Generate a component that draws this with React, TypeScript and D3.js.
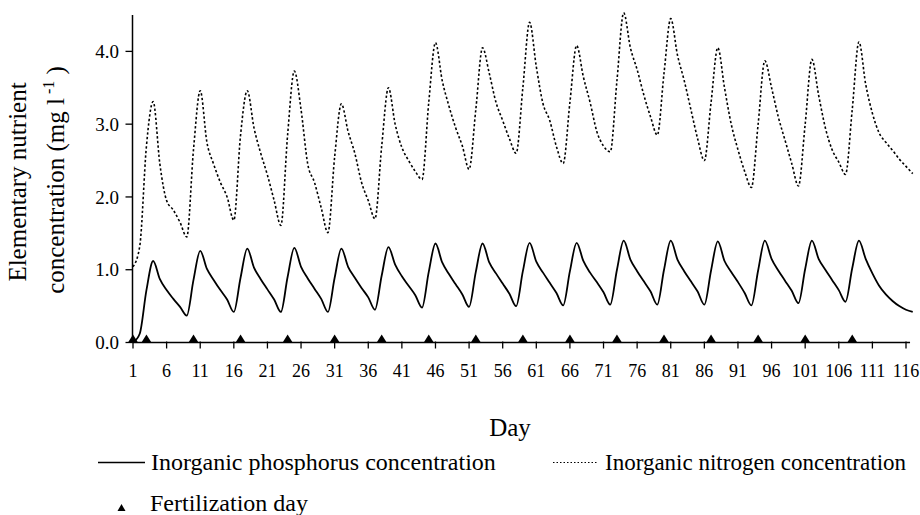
import React from "react";
import * as d3 from "d3";

// Daily inorganic phosphorus concentration (mg/l), day 1 .. day 117
const phosphorus = [
  0.0, 0.12, 0.72, 1.12, 0.87, 0.72, 0.6, 0.49, 0.37,
  0.86, 1.26, 1.01, 0.86, 0.72, 0.59, 0.42,
  0.89, 1.29, 1.03, 0.87, 0.73, 0.59, 0.42,
  0.9, 1.3, 1.04, 0.88, 0.74, 0.6, 0.42,
  0.89, 1.29, 1.04, 0.89, 0.75, 0.62, 0.45,
  0.92, 1.31, 1.07, 0.91, 0.78, 0.65, 0.48,
  0.97, 1.36, 1.1, 0.94, 0.8, 0.66, 0.49,
  0.97, 1.36, 1.1, 0.95, 0.81, 0.67, 0.5,
  0.98, 1.37, 1.11, 0.96, 0.82, 0.68, 0.51,
  0.98, 1.37, 1.12, 0.96, 0.83, 0.69, 0.52,
  1.0, 1.4, 1.14, 0.98, 0.84, 0.7, 0.52,
  1.0, 1.4, 1.14, 0.98, 0.84, 0.7, 0.52,
  0.99, 1.39, 1.12, 0.97, 0.83, 0.68, 0.51,
  0.99, 1.4, 1.15, 0.99, 0.85, 0.71, 0.54,
  1.01, 1.4, 1.15, 1.0, 0.86, 0.72, 0.56,
  1.02, 1.4, 1.15, 0.95, 0.78, 0.66, 0.57, 0.5, 0.45, 0.42,
];

// Daily inorganic nitrogen concentration (mg/l), day 1 .. day 117
const nitrogen = [
  1.04, 1.32, 2.7, 3.31, 2.45, 1.95, 1.82, 1.65, 1.45,
  2.65, 3.46, 2.75, 2.45, 2.2, 2.0, 1.68,
  2.85, 3.46, 2.95, 2.6, 2.3, 1.95, 1.61,
  2.85, 3.73, 3.2, 2.45, 2.2, 1.85, 1.51,
  2.55, 3.28, 2.9, 2.6, 2.2, 1.95, 1.7,
  2.7, 3.5, 3.0, 2.68, 2.5, 2.35, 2.24,
  3.3, 4.12, 3.6, 3.25, 2.95, 2.7, 2.38,
  3.2, 4.05, 3.7, 3.3, 3.05, 2.8, 2.6,
  3.5, 4.4, 3.79, 3.28, 3.05, 2.69, 2.46,
  3.3, 4.08, 3.65, 3.3, 2.9, 2.7, 2.62,
  3.6, 4.53, 4.05, 3.75, 3.4, 3.1, 2.85,
  3.7, 4.45, 3.95, 3.6, 3.2, 2.8, 2.5,
  3.3, 4.05, 3.5, 3.0, 2.65, 2.35, 2.13,
  3.0, 3.87, 3.5, 3.1, 2.78, 2.46, 2.15,
  3.0, 3.89, 3.4, 2.95, 2.65, 2.48, 2.31,
  3.2, 4.13, 3.55, 3.15, 2.88, 2.75, 2.64, 2.52, 2.42, 2.32,
];

// Days on which the pond was fertilized
const fertilizationDays = [1, 3, 10, 17, 24, 31, 38, 45, 52, 59, 66, 73, 80, 87, 94, 101, 108];

const xTicks = [1, 6, 11, 16, 21, 26, 31, 36, 41, 46, 51, 56, 61, 66, 71, 76, 81, 86, 91, 96, 101, 106, 111, 116];
const yTicks = [0, 1, 2, 3, 4];

const W = 920;
const H = 515;
const FONT = "'Liberation Serif', 'Times New Roman', serif";

const x = d3.scaleLinear().domain([1, 116]).range([133, 906]);
const y = d3.scaleLinear().domain([0, 4.5]).range([342.5, 15]);

const line = d3
  .line<number>()
  .x((_, i) => x(i + 1))
  .y((d) => y(d))
  .curve(d3.curveMonotoneX);

const tri = (cx: number, base: number, w: number, h: number) =>
  `M${cx - w / 2},${base}L${cx + w / 2},${base}L${cx},${base - h}Z`;

export default function App() {
  const x0 = x(1) - 0.5;
  const y0 = y(0);
  return (
    <svg
      width={W}
      height={H}
      style={{ position: "fixed", left: 0, top: 0, background: "#fff" }}
      fontFamily={FONT}
    >
      <rect width={W} height={H} fill="#fff" />

      {/* series */}
      <path d={line(nitrogen) || ""} fill="none" stroke="#000" strokeWidth={1.6} strokeDasharray="2.4 2.2" />
      <path d={line(phosphorus) || ""} fill="none" stroke="#000" strokeWidth={1.8} />

      {/* y axis */}
      <line x1={x0} x2={x0} y1={y0} y2={y(4.5)} stroke="#000" strokeWidth={1.5} />
      {yTicks.map((t) => (
        <g key={t}>
          <line x1={x0 - 7} x2={x0} y1={y(t)} y2={y(t)} stroke="#000" strokeWidth={1.3} />
          <text x={119} y={y(t)} dy="0.35em" textAnchor="end" fontSize={19}>
            {d3.format(".1f")(t)}
          </text>
        </g>
      ))}

      {/* x axis */}
      <line x1={x0} x2={x(116.6)} y1={y0} y2={y0} stroke="#000" strokeWidth={1.5} />
      {xTicks.map((t) => (
        <g key={t}>
          <line x1={x(t)} x2={x(t)} y1={y0 - 1} y2={y0 + 6} stroke="#000" strokeWidth={1.3} />
          <text x={x(t)} y={377} textAnchor="middle" fontSize={18}>
            {t}
          </text>
        </g>
      ))}

      {/* fertilization markers */}
      {fertilizationDays.map((d) => (
        <path key={d} d={tri(x(d), y0, 10, 8)} fill="#000" />
      ))}

      {/* axis titles */}
      <text transform="translate(26,182) rotate(-90)" textAnchor="middle" fontSize={25}>
        Elementary nutrient
      </text>
      <text transform="translate(64,180) rotate(-90)" textAnchor="middle" fontSize={25}>
        concentration (mg l
        <tspan fontSize={16} dy={-10}> -1</tspan>
        <tspan dy={10}> )</tspan>
      </text>
      <text x={510} y={436} textAnchor="middle" fontSize={25}>
        Day
      </text>

      {/* legend */}
      <line x1={98} x2={145} y1={462.5} y2={462.5} stroke="#000" strokeWidth={1.7} />
      <text x={151} y={470} fontSize={24}>
        Inorganic phosphorus concentration
      </text>
      <line x1={553} x2={598} y1={462.5} y2={462.5} stroke="#000" strokeWidth={1.2} strokeDasharray="1.5 2" />
      <text x={605} y={470} fontSize={23}>
        Inorganic nitrogen concentration
      </text>
      <path d={tri(121.5, 511, 8, 7)} fill="#000" />
      <text x={150} y={510.5} fontSize={24}>
        Fertilization day
      </text>
    </svg>
  );
}
